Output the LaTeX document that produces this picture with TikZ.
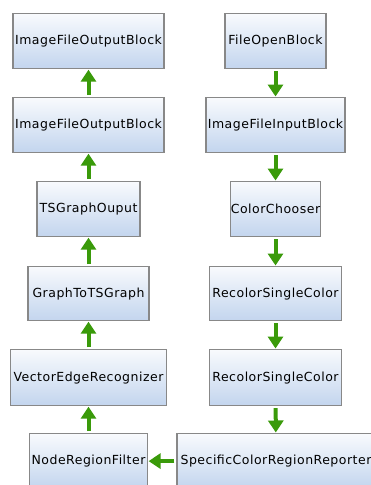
\documentclass[tikz,border=0pt]{standalone}
\usepackage{fontspec}
\newfontfamily\blockfont[LetterSpace=4]{DejaVu Sans}
\usetikzlibrary{arrows.meta}
\definecolor{boxedge}{HTML}{888888}
\definecolor{boxtop}{HTML}{F8FAFD}
\definecolor{boxbot}{HTML}{C3D5EE}
\definecolor{flow}{HTML}{3A9A0A}
\begin{document}
\begin{tikzpicture}[x=1pt,y=-1pt,
  block/.style={draw=boxedge, line width=1.2pt, top color=boxtop, bottom color=boxbot,
    font=\blockfont\fontsize{12.5}{14}\selectfont, text=black, inner sep=0pt,
    anchor=north, minimum height=55pt},
  flowarrow/.style={draw=flow, line width=4pt,
    -{Triangle[width=15pt,length=12pt]}, shorten <=2pt, shorten >=0.5pt}]
\useasboundingbox (0,0) rectangle (370,485);
\fill[white] (0,0) rectangle (370,485);
% left column, data flows upwards
\node[block, minimum width=151pt] (l1) at (88.5,13) {ImageFileOutputBlock};
\node[block, minimum width=151pt] (l2) at (88.5,97) {ImageFileOutputBlock};
\node[block, minimum width=103pt] (l3) at (88.5,181) {TSGraphOuput};
\node[block, minimum width=121pt, minimum height=54pt] (l4) at (88.5,266) {GraphToTSGraph};
\node[block, minimum width=156pt, minimum height=56pt] (l5) at (88.5,349) {VectorEdgeRecognizer};
\node[block, minimum width=118pt] (l6) at (88.5,433) {NodeRegionFilter};
% right column, data flows downwards
\node[block, minimum width=101pt] (r1) at (275.5,13) {FileOpenBlock};
\node[block, minimum width=139pt] (r2) at (275.5,97) {ImageFileInputBlock};
\node[block, minimum width=90pt] (r3) at (275.5,181) {ColorChooser};
\node[block, minimum width=132pt, minimum height=54pt] (r4) at (275.5,266) {RecolorSingleColor};
\node[block, minimum width=132pt, minimum height=56pt] (r5) at (275.5,349) {RecolorSingleColor};
\node[block, minimum width=198pt] (r6) at (276,433) {SpecificColorRegionReporter};
% connectors
\draw[flowarrow] (r1) -- (r2);
\draw[flowarrow] (r2) -- (r3);
\draw[flowarrow] (r3) -- (r4);
\draw[flowarrow] (r4) -- (r5);
\draw[flowarrow] (r5) -- (r6);
\draw[flowarrow] (r6) -- (l6);
\draw[flowarrow] (l6) -- (l5);
\draw[flowarrow] (l5) -- (l4);
\draw[flowarrow] (l4) -- (l3);
\draw[flowarrow] (l3) -- (l2);
\draw[flowarrow] (l2) -- (l1);
\end{tikzpicture}
\end{document}
